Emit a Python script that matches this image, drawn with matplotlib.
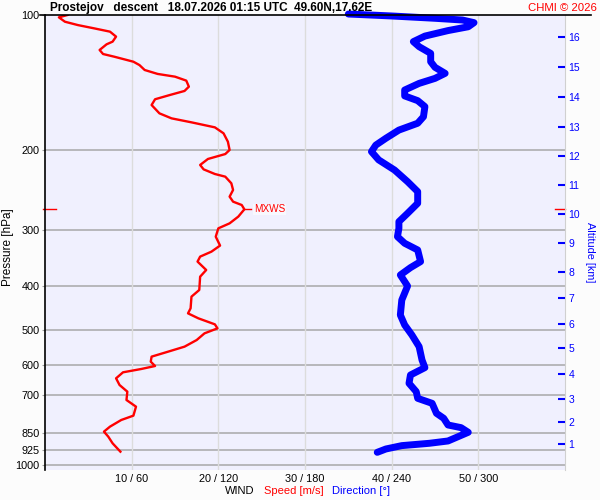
import numpy as np
import matplotlib
matplotlib.use("Agg")
import matplotlib.pyplot as plt
from matplotlib.ticker import FixedLocator, NullLocator

plt.rcParams['font.family'] = ['Liberation Sans', 'DejaVu Sans']

# Wind speed profile (m/s) against pressure (hPa)
speed_p = [100, 101.2, 103.5, 105.3, 107.1, 108.9, 111.7, 114.6, 116.2, 119.6,
           122.1, 123.8, 127.0, 129.2, 132.5, 135.2, 137.1, 139.9, 144.3, 147.5,
           150.6, 153.9, 158.5, 165.4, 169.7, 173.2, 177.7, 183.2, 191.2, 199.5,
           203.7, 208.9, 215.4, 220.3, 225.6, 228.7, 236.6, 244.8, 253.3, 259.9,
           264.4, 270.3, 280.6, 290.4, 297.9,
           310.9, 325.4, 335.7, 344.3, 353.2, 368.7, 381.5, 408.4, 422.6, 448.5,
           460.3, 472.2, 486.9, 497.0, 509.9, 527.6, 545.8, 560.0, 574.4, 589.3,
           602.6, 611.9, 622.4, 641.8, 664.1, 687.1, 717.1, 742.0, 776.9, 794.3,
           821.8, 843.1, 865.0, 895.1, 934.2]
speed = [2.6, 1.6, 2.3, 3.8, 5.7, 7.5, 8.2, 7.8, 7.1, 6.3,
         6.7, 8.0, 10.2, 10.9, 11.5, 13.0, 15.0, 16.3, 16.6, 16.1,
         14.4, 12.7, 12.3, 13.2, 14.6, 16.9, 19.6, 20.6, 21.1, 21.3,
         20.8, 18.8, 17.9, 18.3, 19.6, 20.8, 21.5, 21.7, 21.3, 21.7,
         22.7, 23.0, 22.3, 21.3, 20.0,
         19.7, 20.2, 19.2, 17.9, 17.6, 18.6, 17.9, 17.8, 16.9, 16.8,
         16.5, 17.7, 19.6, 19.9, 18.4, 17.5, 16.1, 14.2, 12.3, 12.2,
         12.7, 11.1, 9.0, 8.2, 8.6, 9.5, 9.4, 10.5, 10.2, 8.8,
         7.5, 6.8, 7.3, 7.8, 8.7]

# Wind direction profile (deg) against pressure (hPa)
dir_p = [99.5, 100.5, 101.7, 102.6, 104.0, 106.2, 108.3, 111.4, 114.6, 117.6,
         121.7, 127.0, 130.7, 134.8, 138.3, 141.9, 146.8, 151.3, 155.0, 159.8,
         168.3, 174.0, 180.2, 187.9, 194.6, 201.2, 209.9, 221.1, 234.6, 246.9,
         262.1, 275.9, 287.9, 297.9,
         310.9, 321.6, 332.8, 353.2, 364.3, 378.2, 400.2, 430.0, 464.2, 488.5,
         514.2, 545.8, 584.3, 607.6, 631.0, 658.4, 687.1, 711.0, 729.5, 767.6,
         787.5, 814.9, 826.1, 846.0, 865.0, 884.4, 895.0, 905.7, 921.4, 937.3]
direction = [210, 240, 270, 289, 297, 293, 279, 263, 255, 259,
             267, 267, 270, 277, 270, 259, 249, 249, 258, 263,
             262, 258, 245, 236, 229, 226, 231, 242, 251, 258,
             258, 251, 245, 245,
             244, 249, 258, 260, 253, 246, 251, 247, 246, 249,
             254, 259, 261, 263, 253, 252, 257, 258, 268, 271,
             276, 279, 288, 293, 286, 279, 266, 247, 236, 230]

pressure_ticks = [100, 200, 300, 400, 500, 600, 700, 850, 925, 1000]
speed_ticks = [10, 20, 30, 40, 50]
speed_labels = ['10 / 60', '20 / 120', '30 / 180', '40 / 240', '50 / 300']
alt_km = list(range(1, 17))
alt_p = [898, 802, 713, 628, 550, 486, 425, 372, 321, 277, 239, 206, 177, 152, 130.5, 112]

fig = plt.figure(figsize=(6, 5), dpi=100, facecolor='#FCFCFC')
ax = fig.add_axes([0.075, 0.06, 0.8667, 0.91])
ax.set_facecolor('#F0F0FE')
ax.set_yscale('log')
ax.set_ylim(1026, 100)
ax.set_xlim(0, 60)

for p in pressure_ticks[1:]:
    ax.axhline(p, color='#A8A8A8', lw=1.1, zorder=1)
for s in speed_ticks:
    ax.axvline(s, color='#DCDCDC', lw=1, zorder=1)

ax.yaxis.set_major_locator(FixedLocator(pressure_ticks))
ax.yaxis.set_minor_locator(NullLocator())
ax.set_yticklabels([str(p) for p in pressure_ticks])
ax.tick_params(axis='y', direction='out', length=2.5, color='#A0A0A0',
               labelsize=7.8, pad=1.5)
ax.set_xticks(speed_ticks)
ax.set_xticklabels(speed_labels)
ax.tick_params(axis='x', length=0, labelsize=7.8, pad=3)

ax.spines['top'].set_visible(False)
ax.spines['bottom'].set_visible(False)
ax.spines['left'].set_color('black')
ax.spines['left'].set_linewidth(1.2)
ax.spines['right'].set_color('#D0D0D0')

# profiles; direction drawn on the speed scale (6 deg per m/s)
ax.plot(speed, speed_p, color='#FF0000', lw=1.7, solid_joinstyle='round', zorder=3)
ax.plot(np.array(direction) / 6.0, dir_p, color='#0000FF', lw=5,
        solid_capstyle='round', solid_joinstyle='round', zorder=3, clip_on=False)

# maximum wind
i = int(np.argmax(speed))
pmx = speed_p[i]
ax.plot([speed[i], speed[i] + 0.8], [pmx, pmx], color='red', lw=1, zorder=4)
ax.text(speed[i] + 1.1, pmx, 'MXWS', color='red', fontsize=7.2, va='center',
        bbox=dict(facecolor='white', edgecolor='none', pad=0.5, alpha=0.6))
yt = ax.get_yaxis_transform()
ax.plot([-0.004, 0.021], [pmx, pmx], color='red', lw=1, transform=yt, clip_on=False)
ax.plot([0.981, 1.0], [pmx, pmx], color='red', lw=1, transform=yt, clip_on=False)

# altitude axis
ax2 = ax.twinx()
ax2.set_yscale('log')
ax2.set_ylim(ax.get_ylim())
ax2.yaxis.set_major_locator(FixedLocator(alt_p))
ax2.yaxis.set_minor_locator(NullLocator())
ax2.set_yticklabels([str(k) for k in alt_km])
ax2.tick_params(axis='y', direction='in', length=5, width=1.5, colors='blue',
                labelsize=7.5, pad=2.5)
for sp in ax2.spines.values():
    sp.set_visible(False)

# top line and texts
fig.add_artist(plt.Line2D([40 / 600, 591 / 600], [0.97, 0.97], color='black', lw=1.2))
fig.text(50 / 600, 1 - 8 / 500, 'Prostejov   descent   18.07.2026 01:15 UTC  49.60N,17.62E',
         fontsize=8.5, fontweight='bold', va='center', ha='left')
fig.text(597 / 600, 1 - 8 / 500, 'CHMI © 2026', color='red', fontsize=8.2,
         va='center', ha='right')
fig.text(8 / 600, 1 - 247 / 500, 'Pressure [hPa]', rotation=90, fontsize=8.5,
         va='center', ha='center')
fig.text(590 / 600, 1 - 252 / 500, 'Altitude [km]', rotation=270, color='blue',
         fontsize=7.8, va='center', ha='center')
fig.text(225 / 600, 1 - 491 / 500, 'WIND', fontsize=8, va='center', ha='left')
fig.text(264 / 600, 1 - 491 / 500, 'Speed [m/s]', color='red', fontsize=8,
         va='center', ha='left')
fig.text(332 / 600, 1 - 491 / 500, 'Direction [°]', color='blue', fontsize=8,
         va='center', ha='left')

fig.savefig('out.png', dpi=100, facecolor=fig.get_facecolor())
